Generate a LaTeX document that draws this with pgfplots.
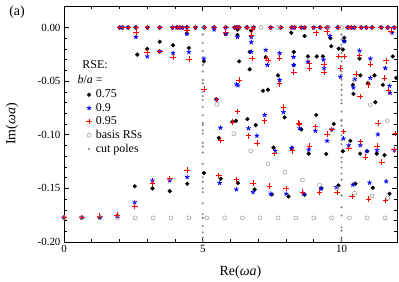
\documentclass[border=0pt]{standalone}
\usepackage{fontspec}
\setmainfont{Liberation Serif}
\usepackage{pgfplots}
\pgfplotsset{compat=1.18}
\definecolor{basisgray}{RGB}{150,150,150}
\definecolor{cutgray}{RGB}{130,130,130}
\begin{document}
\begin{tikzpicture}
\useasboundingbox (-64bp,-40bp) rectangle (335bp,242bp);
\begin{axis}[
  at={(0,0)}, anchor=south west,
  scale only axis, width=333bp, height=236bp,
  xmin=0, xmax=12, ymin=-0.2, ymax=0.02,
  xtick={0,5,10}, xticklabels={0,5,10},
  ytick={-0.2,-0.15,-0.1,-0.05,0},
  yticklabels={-0.20,-0.15,-0.10,-0.05,0.00},
  minor x tick num=4, minor y tick num=4,
  tick align=inside, xtick pos=both, ytick pos=both,
  major tick length=5bp, minor tick length=3bp,
  tick style={black, line width=0.6pt},
  axis line style={line width=0.8pt},
  tick label style={font=\fontsize{11}{13}\selectfont},
  every axis x label/.style={at={(axis description cs:0.53,0)}, yshift=-30bp, anchor=center},
  every axis y label/.style={at={(axis description cs:0,0.5)}, xshift=-52bp, rotate=90, anchor=center},
  label style={font=\fontsize{14}{16}\selectfont},
  xlabel={Re(\textit{ωa})}, ylabel={Im(\textit{ωa})},
  legend style={draw=none, fill=none, at={(axis cs:0.76,-0.0553)}, anchor=north west,
    font=\fontsize{12}{14}\selectfont, row sep=0pt, inner sep=1pt,
    nodes={inner xsep=4bp}},
  legend cell align=left,
]
% b/a = 0.75
\addplot[only marks, mark=*, mark size=1.9bp, black] coordinates {
(0,-0.177)(0.64,-0.177)(1.29,-0.177)(1.92,-0.1755)(2.55,-0.148)(3.19,-0.150)(3.81,-0.1526)(4.44,-0.1457)
(2.64,-0.0253)(3.0,-0.020)(3.45,-0.0134)(3.93,-0.0166)(4.5,-0.019)(4.43,-0.0056)
(2.01,0)(2.11,0)(2.31,0)(2.59,0)(3.01,0)(3.45,0)(3.91,0)(4.07,0)(4.17,0)(4.27,0)(4.43,0)(4.74,0)
(5.05,0)(5.41,0)(5.83,0)(6.15,0)(6.23,0)(6.31,0)(6.59,0)(6.83,0)(7.45,0)(7.81,0)(8.21,0)(8.31,0)
(8.55,0)(8.67,0)(9.0,0)(9.23,0)(9.48,0)(9.87,0)(10.23,0)(10.35,0)(10.47,0)(10.71,0)(10.89,0)(11.1,0)
(11.43,0)(11.67,0)(11.9,0)
(5.04,-0.0316)(5.49,-0.067)(5.83,-0.006)(6.26,-0.002)(6.25,-0.007)(6.31,-0.0316)(6.69,-0.0228)(6.75,-0.003)
(6.69,-0.039)(7.17,-0.059)(7.35,-0.058)(7.27,-0.0275)(7.71,-0.0447)(7.95,-0.0838)(8.28,-0.0228)(8.28,-0.035)
(8.19,-0.005)(8.67,-0.008)(8.79,-0.027)(9.11,-0.027)(9.33,-0.027)(9.6,-0.010)(9.63,-0.0175)(9.9,-0.0197)
(10.05,-0.0206)(10.1,-0.0097)(10.1,-0.0128)(10.65,-0.029)(10.41,-0.0535)(10.43,-0.062)(10.68,-0.0447)
(10.95,-0.052)(11.19,-0.0447)(11.22,-0.0697)(11.49,-0.0535)(11.85,-0.027)(11.97,-0.047)(9.09,-0.0816)
(6.07,-0.088)(6.2,-0.087)(6.61,-0.0854)(6.91,-0.091)(5.58,-0.103)(7.55,-0.112)(8.21,-0.1123)(8.55,-0.095)
(9.72,-0.090)(8.82,-0.1176)(9.45,-0.118)(10.05,-0.1154)(10.32,-0.1057)(10.67,-0.1176)(10.92,-0.1154)
(11.27,-0.1176)(11.55,-0.119)
(5.04,-0.1357)(5.65,-0.141)(6.27,-0.145)(6.87,-0.151)(7.49,-0.1557)(8.09,-0.1576)(8.67,-0.156)(9.27,-0.150)
(9.89,-0.1473)(10.5,-0.1457)(11.13,-0.1494)(11.73,-0.155)
};
\addlegendentry{0.75}
% b/a = 0.9
\addplot[only marks, mark=star, mark size=2.3bp, blue, line width=0.9pt] coordinates {
(0,-0.177)(0.64,-0.177)(1.29,-0.177)(1.92,-0.176)(2.55,-0.163)(3.19,-0.1426)(3.81,-0.1426)(4.44,-0.1395)
(2.59,-0.009)(3.0,-0.027)(3.45,-0.022)(3.93,-0.024)(4.5,-0.023)(4.43,-0.006)
(2.01,0)(2.11,0)(2.31,0)(2.59,0)(3.01,0)(3.45,0)(3.91,0)(4.07,0)(4.17,0)(4.27,0)(4.43,0)(4.74,0)
(5.05,0)(5.41,0)(5.83,0)(6.15,0)(6.23,0)(6.31,0)(6.59,0)(6.83,0)(7.45,0)(7.81,0)(8.21,0)(8.31,0)
(8.55,0)(8.67,0)(9.0,0)(9.23,0)(9.48,0)(9.87,0)(10.23,0)(10.35,0)(10.47,0)(10.71,0)(10.89,0)(11.1,0)
(11.43,0)(11.67,0)(11.9,0)
(5.04,-0.029)(5.49,-0.067)(5.41,-0.002)(5.83,-0.006)(6.25,-0.009)(6.75,-0.009)(6.75,-0.0228)(6.75,-0.0138)
(7.27,-0.021)(7.33,-0.035)(7.77,-0.024)(7.77,-0.049)(8.28,-0.035)(8.27,-0.0275)(6.22,-0.053)(6.27,-0.054)
(7.23,-0.0816)(7.91,-0.079)(5.64,-0.0935)(6.65,-0.094)(6.95,-0.101)(8.79,-0.032)(9.35,-0.030)(9.37,-0.038)
(9.58,-0.008)(10.1,-0.0128)(9.96,-0.046)(10.65,-0.0216)(11.04,-0.029)(11.58,-0.038)(10.48,-0.048)
(10.43,-0.056)(11.04,-0.047)(11.73,-0.0544)(11.75,-0.061)(11.82,-0.005)
(7.61,-0.115)(8.21,-0.1123)(8.49,-0.094)(9.06,-0.0963)(9.48,-0.1057)(9.65,-0.095)(10.07,-0.1035)
(10.26,-0.1098)(10.68,-0.1098)(10.92,-0.1154)(11.31,-0.0997)(11.28,-0.1144)(11.9,-0.114)(8.82,-0.1138)
(5.61,-0.145)(6.21,-0.151)(6.81,-0.1535)(7.45,-0.155)(8.01,-0.155)(8.64,-0.155)(9.27,-0.150)(9.81,-0.1488)
(10.41,-0.1466)(11.01,-0.1447)(11.61,-0.1435)
};
\addlegendentry{0.9}
% b/a = 0.95
\addplot[only marks, mark=+, mark size=2.8bp, red, line width=0.7pt] coordinates {
(0,-0.177)(0.64,-0.177)(1.29,-0.176)(1.92,-0.175)(2.55,-0.167)(3.19,-0.145)(3.81,-0.141)(4.44,-0.133)
(2.59,-0.005)(3.0,-0.023)(3.45,-0.0225)(3.93,-0.0275)(4.5,-0.0294)(4.43,-0.003)
(2.01,0)(2.11,0)(2.31,0)(2.59,0)(3.01,0)(3.45,0)(3.91,0)(4.07,0)(4.17,0)(4.27,0)(4.43,0)(4.74,0)
(5.05,0)(5.41,0)(5.83,0)(6.15,0)(6.23,0)(6.31,0)(6.59,0)(6.83,0)(7.45,0)(7.81,0)(8.21,0)(8.31,0)
(8.55,0)(8.67,0)(9.0,0)(9.23,0)(9.48,0)(9.87,0)(10.23,0)(10.35,0)(10.47,0)(10.71,0)(10.89,0)(11.1,0)
(11.43,0)(11.67,0)(11.9,0)
(5.04,-0.0575)(5.49,-0.067)(5.83,-0.005)(6.78,-0.002)(6.75,-0.007)(6.78,-0.029)(7.3,-0.029)(7.35,-0.0307)
(7.77,-0.0285)(7.77,-0.0525)(8.28,-0.0416)(6.31,-0.049)(6.25,-0.0785)(6.07,-0.088)(7.23,-0.087)
(7.91,-0.0744)(6.65,-0.101)(6.95,-0.1076)(8.85,-0.033)(8.85,-0.038)(9.09,-0.005)(9.48,-0.004)(9.38,-0.034)
(9.38,-0.042)(9.9,-0.027)(10.1,-0.027)(9.96,-0.038)(10.65,-0.026)(10.53,-0.0434)(10.67,-0.0644)
(11.04,-0.034)(10.98,-0.0535)(11.61,-0.031)(11.55,-0.047)(11.7,-0.059)(8.46,-0.089)(11.31,-0.089)
(11.79,-0.0035)
(5.65,-0.105)(7.58,-0.1176)(8.24,-0.115)(8.49,-0.090)(8.85,-0.1107)(9.06,-0.0926)(9.48,-0.0994)
(9.65,-0.095)(10.07,-0.097)(10.26,-0.1129)(10.68,-0.1066)(10.86,-0.1207)(11.28,-0.1107)(11.45,-0.1254)
(11.9,-0.114)(11.94,-0.0988)
(5.58,-0.138)(6.21,-0.142)(6.81,-0.145)(7.41,-0.148)(8.01,-0.150)(8.59,-0.1535)(9.21,-0.1535)
(9.84,-0.154)(10.38,-0.1576)(10.98,-0.1598)(11.58,-0.1614)
};
\addlegendentry{0.95\rule[-8bp]{0pt}{0pt}}
% basis RSs
\addplot[only marks, mark=o, mark size=2bp, basisgray, line width=0.5pt] coordinates {
(0,-0.1775)(0.643,-0.1775)(1.286,-0.1775)(1.929,-0.1775)(2.571,-0.1775)(3.214,-0.1775)(3.857,-0.1775)
(4.5,-0.1775)(5.143,-0.1775)(5.786,-0.1775)(6.429,-0.1775)(7.071,-0.1775)(7.714,-0.1775)(8.357,-0.1775)
(9.0,-0.1775)(9.643,-0.1775)(10.286,-0.1775)(10.929,-0.1775)(11.571,-0.1775)
(5.51,-0.0716)(6.12,-0.099)(6.73,-0.115)(7.35,-0.127)(7.96,-0.135)(8.59,-0.142)(9.21,-0.147)(9.83,-0.150)
(10.47,-0.1545)(11.1,-0.157)(11.67,-0.159)
(10.47,-0.049)(11.04,-0.072)(11.65,-0.087)
(7.1,0)(7.7,0)(9.53,0)(10.0,0)
};
\addlegendentry{basis RSs}
% cut poles
\addplot[only marks, mark=*, mark size=0.8bp, cutgray] coordinates {
(5,0)(5,-0.0066)(5,-0.0144)(5,-0.022)(5,-0.028)(5,-0.035)(5,-0.041)(5,-0.049)(5,-0.052)(5,-0.060)
(5,-0.064)(5,-0.0675)(5,-0.074)(5,-0.082)(5,-0.089)(5,-0.091)(5,-0.096)(5,-0.099)(5,-0.1075)(5,-0.111)
(5,-0.1166)(5,-0.127)(5,-0.1395)(5,-0.144)(5,-0.150)(5,-0.1535)(5,-0.164)(5,-0.174)(5,-0.1776)(5,-0.185)
(5,-0.191)(5,-0.196)(5,-0.199)
(10,-0.0066)(10,-0.0113)(10,-0.016)(10,-0.019)(10,-0.0238)(10,-0.0278)(10,-0.0316)(10,-0.0363)(10,-0.041)
(10,-0.044)(10,-0.0488)(10,-0.0535)(10,-0.058)(10,-0.0629)(10,-0.0675)(10,-0.0707)(10,-0.0785)(10,-0.0863)
(10,-0.087)(10,-0.0916)(10,-0.1004)(10,-0.105)(10,-0.1088)(10,-0.1213)(10,-0.1254)(10,-0.1307)(10,-0.1363)
(10,-0.142)(10,-0.1567)(10,-0.1676)(10,-0.1754)(10,-0.1864)(10,-0.1895)(10,-0.1973)(10,-0.199)
};
\addlegendentry{cut poles}
\node[font=\fontsize{12}{14}\selectfont] at (axis cs:1.12,-0.0347) {RSE:};
\node[font=\fontsize{12}{14}\selectfont] at (axis cs:0.94,-0.0488) {\textit{b}/\textit{a} =};
\end{axis}
\node[font=\fontsize{14}{16}\selectfont] at (-47bp,230bp) {(a)};
\end{tikzpicture}
\end{document}
